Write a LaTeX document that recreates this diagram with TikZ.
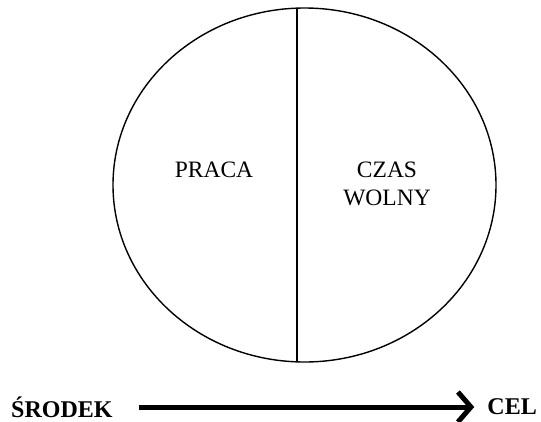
\documentclass[tikz,border=0pt]{standalone}
\usepackage{fontspec}
\setmainfont{Liberation Serif}
\usepackage{tikz}
\usetikzlibrary{shapes,arrows.meta,positioning,calc}

\begin{document}
\begin{tikzpicture}[x=1pt,y=-1pt,
  half text/.style={font=\fontsize{23.5}{28}\selectfont, align=center},
  end text/.style={font=\fontsize{24}{28}\selectfont\bfseries, inner sep=1pt}]
\useasboundingbox (0,0) rectangle (541,421);

% Oval split into two halves
\node[draw, line width=1.4pt, ellipse, inner sep=0pt,
      minimum width=383pt, minimum height=354pt] (oval) at (304.5,185) {};
\coordinate (top) at (297,8);
\coordinate (bottom) at (297,362);
\draw[line width=1.3pt] (top) -- (bottom);

% Labels of the halves
\node[half text] (praca) at (214,170) {PRACA};
\node[half text] (czas) at (387,184) {CZAS\\WOLNY};

% Bottom arrow
\node[end text, anchor=west] (srodek) at (10,407) {ŚRODEK};
\node[end text, anchor=east] (cel) at (538,407) {CEL};
\draw[line width=5pt, -{Straight Barb[length=13pt, width=30pt]},
      shorten <=25pt, shorten >=12pt] (srodek.east) -- (cel.west);

\end{tikzpicture}
\end{document}
